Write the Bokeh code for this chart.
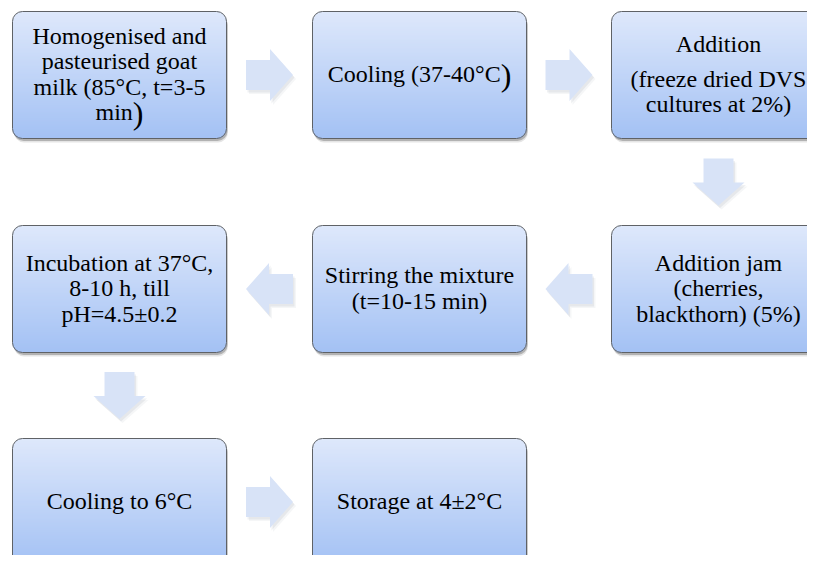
import math
from bokeh.plotting import figure
from bokeh.models import Range1d, ColumnDataSource
from bokeh.core.properties import value
from bokeh.embed import file_html
from bokeh.resources import INLINE

# ---------------- data: process steps (in flow order) ----------------
step_lines = [
    ["Homogenised and", "pasteurised goat", "milk (85°C, t=3-5", "min)"],
    ["Cooling (37-40°C)"],
    ["Addition", "(freeze dried DVS", "cultures at 2%)"],
    ["Addition jam", "(cherries,", "blackthorn) (5%)"],
    ["Stirring the mixture", "(t=10-15 min)"],
    ["Incubation at 37°C,", "8-10 h, till", "pH=4.5±0.2"],
    ["Cooling to 6°C"],
    ["Storage at 4±2°C"],
]
# lines whose closing parenthesis is set larger: step index -> line index
big_paren = {0: 3, 1: 0}
# extra paragraph space after a line: step index -> (line index, px)
para_gap = {2: (0, 9)}

# ---------------- layout / style ----------------
N_COLS = 3
X0, Y0 = 12, 11
COL_PITCH, ROW_PITCH = 299.5, 213.5
BOX_W, BOX_H = 214, 127
RADIUS = 10
LINE_H = 25.5
FONT = "Liberation Serif"
FONT_PX = 24
BIG_PX = 32
TOP_RGB = (222, 232, 251)
BOT_RGB = (163, 193, 244)
ARROW_COLOR = "#d8e3f7"

# Times-compatible advance widths (per 1000 em) for width estimation
TW = {" ": 250, "(": 333, ")": 333, "-": 333, "°": 400, "C": 667, "o": 500,
      "l": 278, "i": 278, "n": 500, "g": 500, "m": 778}


def text_w(s, px):
    return sum(TW.get(c, 500) for c in s) * px / 1000.0


def cell(i):
    row = i // N_COLS
    k = i % N_COLS
    col = k if row % 2 == 0 else N_COLS - 1 - k
    return row, col


def box_of(i):
    row, col = cell(i)
    left = int(math.floor(X0 + col * COL_PITCH + 0.5))
    top = int(math.floor(Y0 + row * ROW_PITCH + 0.5))
    return left, top, left + BOX_W, top + BOX_H


p = figure(width=807, height=555, x_range=Range1d(0, 807), y_range=Range1d(555, 0),
           output_backend="svg", toolbar_location=None, min_border=0,
           x_axis_location=None, y_axis_location=None)
p.grid.visible = False
p.outline_line_color = None
p.background_fill_color = "white"
p.border_fill_color = "white"

boxes = [box_of(i) for i in range(len(step_lines))]

# ---- box shadows ----
for (dx, dy, a) in [(1.5, 4.0, 0.10), (1.0, 2.5, 0.22)]:
    p.quad(left=[b[0] + dx for b in boxes], right=[b[2] + dx for b in boxes],
           top=[b[1] + dy for b in boxes], bottom=[b[3] + dy for b in boxes],
           fill_color="black", fill_alpha=a, line_color=None, border_radius=RADIUS)

# ---- gradient fills as thin strips with rounded-corner insets ----
sl, sr, st, sb, sc = [], [], [], [], []
for (l, t, r, b) in boxes:
    h = b - t
    for k in range(h):
        ya = t + k
        ymid = ya + 0.5
        d = min(ymid - t, b - ymid)
        if d < RADIUS:
            inset = RADIUS - math.sqrt(max(RADIUS ** 2 - (RADIUS - d) ** 2, 0))
        else:
            inset = 0
        f = (ymid - t) / h
        rgb = tuple(int(round(TOP_RGB[j] + (BOT_RGB[j] - TOP_RGB[j]) * f)) for j in range(3))
        sl.append(l + inset)
        sr.append(r - inset)
        st.append(ya)
        sb.append(min(ya + 1.5, b))
        sc.append("#%02x%02x%02x" % rgb)
p.quad(left="l", right="r", top="t", bottom="b", fill_color="c", line_color=None,
       source=ColumnDataSource(dict(l=sl, r=sr, t=st, b=sb, c=sc)))

# ---- outlines ----
p.quad(left=[b[0] for b in boxes], right=[b[2] for b in boxes],
       top=[b[1] for b in boxes], bottom=[b[3] for b in boxes],
       fill_color=None, line_color="#5f6266", line_width=1, border_radius=RADIUS)

# ---- texts ----
tx, ty, tt = [], [], []
px_, py_, pt_ = [], [], []  # main part of big-paren lines (right aligned)
bx, by, bt = [], [], []     # big parens (left aligned)
for i, lines in enumerate(step_lines):
    l, t, r, b = boxes[i]
    cx, cy = (l + r) / 2, (t + b) / 2
    gaps = [0] * len(lines)
    if i in para_gap:
        gaps[para_gap[i][0]] = para_gap[i][1]
    total = LINE_H * (len(lines) - 1) + sum(gaps[:-1])
    y = cy - total / 2 - 1
    for j, s in enumerate(lines):
        if big_paren.get(i) == j and s.endswith(")"):
            main = s[:-1]
            wm = text_w(main, FONT_PX)
            wp = text_w(")", BIG_PX)
            split = cx - (wm + wp) / 2 + wm
            px_.append(split); py_.append(y); pt_.append(main)
            bx.append(split); by.append(y + 1); bt.append(")")
        else:
            tx.append(cx); ty.append(y); tt.append(s)
        y += LINE_H + gaps[j]

common = dict(text_font=value(FONT), text_color="black", text_baseline="middle")
p.text(x=tx, y=ty, text=tt, text_font_size=value(f"{FONT_PX}px"), text_align="center", **common)
p.text(x=px_, y=py_, text=pt_, text_font_size=value(f"{FONT_PX}px"), text_align="right", **common)
p.text(x=bx, y=by, text=bt, text_font_size=value(f"{BIG_PX}px"), text_align="left", **common)

# ---- arrows between consecutive steps ----
A_LEN, HEAD_W, BODY_W, HEAD_L = 47, 52, 30, 23
shape = [(-A_LEN / 2, -BODY_W / 2), (A_LEN / 2 - HEAD_L, -BODY_W / 2),
         (A_LEN / 2 - HEAD_L, -HEAD_W / 2), (A_LEN / 2, 0),
         (A_LEN / 2 - HEAD_L, HEAD_W / 2), (A_LEN / 2 - HEAD_L, BODY_W / 2),
         (-A_LEN / 2, BODY_W / 2)]
axs, ays = [], []
for i in range(len(step_lines) - 1):
    a, bb = boxes[i], boxes[i + 1]
    (r0, c0), (r1, c1) = cell(i), cell(i + 1)
    if r0 == r1:
        d = (1, 0) if c1 > c0 else (-1, 0)
        mx = ((a[2] + bb[0]) / 2) if c1 > c0 else ((bb[2] + a[0]) / 2)
        my = (a[1] + a[3]) / 2
    else:
        d = (0, 1)
        mx = (a[0] + a[2]) / 2
        my = (a[3] + bb[1]) / 2
    xs = [mx + u * d[0] - v * d[1] for (u, v) in shape]
    ys = [my + u * d[1] + v * d[0] for (u, v) in shape]
    axs.append(xs); ays.append(ys)

for (dx, dy, a) in [(3.0, 4.0, 0.05), (1.5, 2.5, 0.08)]:
    p.patches(xs=[[x + dx for x in xs] for xs in axs], ys=[[y + dy for y in ys] for ys in ays],
              fill_color="#404860", fill_alpha=a, line_color=None)
p.patches(xs=axs, ys=ays, fill_color=ARROW_COLOR, line_color=None)

open("out.html", "w").write(file_html(p, INLINE))
